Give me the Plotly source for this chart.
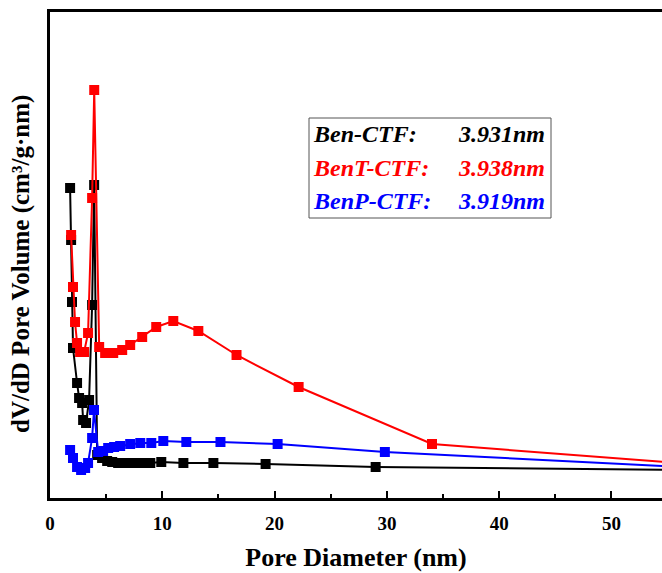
import plotly.graph_objects as go

# Pore size distributions (dV/dD) for the three CTF materials
ben_x = [1.79, 1.88, 1.96, 2.05, 2.41, 2.59, 2.86, 2.95, 3.21, 3.48, 3.75, 3.931,
         4.20, 4.64, 5.09, 5.54, 6.07, 6.88, 7.50, 8.13, 8.93, 9.91, 11.88, 14.55,
         19.20, 29.00, 65.0]
ben_y = [0.310, 0.258, 0.196, 0.150, 0.115, 0.100, 0.095, 0.078, 0.075, 0.098, 0.193, 0.313,
         0.043, 0.040, 0.037, 0.036, 0.035, 0.035, 0.035, 0.035, 0.035, 0.036, 0.035, 0.035,
         0.034, 0.031, 0.027]

bent_x = [1.88, 2.05, 2.23, 2.41, 2.68, 3.04, 3.39, 3.75, 3.938, 4.38, 4.91, 5.63, 6.43,
          7.14, 8.21, 9.46, 10.98, 13.21, 16.61, 22.14, 34.02, 65.0]
bent_y = [0.263, 0.211, 0.176, 0.155, 0.146, 0.146, 0.165, 0.300, 0.408, 0.151, 0.145, 0.145,
          0.148, 0.153, 0.161, 0.171, 0.177, 0.167, 0.143, 0.111, 0.054, 0.027]

benp_x = [1.79, 2.05, 2.41, 2.77, 3.13, 3.39, 3.75, 3.919, 4.29, 4.73, 5.18, 5.71, 6.25,
          7.14, 8.04, 9.02, 10.09, 12.14, 15.18, 20.27, 29.82, 65.0]
benp_y = [0.048, 0.040, 0.031, 0.028, 0.030, 0.035, 0.060, 0.088, 0.046, 0.047, 0.050, 0.051,
          0.052, 0.054, 0.055, 0.055, 0.057, 0.056, 0.056, 0.054, 0.046, 0.026]

names = ["Ben-CTF:", "BenT-CTF:", "BenP-CTF:"]
peaks = ["3.931nm", "3.938nm", "3.919nm"]
colors = ["#000000", "#ff0000", "#0000ff"]

x_ticks = [0, 10, 20, 30, 40, 50]

FONT = "Liberation Serif"

fig = go.Figure()
for xs, ys, c in [(ben_x, ben_y, colors[0]), (bent_x, bent_y, colors[1]), (benp_x, benp_y, colors[2])]:
    fig.add_trace(go.Scatter(
        x=xs, y=ys, mode="lines+markers",
        line=dict(color=c, width=2),
        marker=dict(symbol="square", size=10, color=c, line=dict(width=0)),
        showlegend=False, cliponaxis=True,
    ))

# Plot-area geometry in pixels, used to place the text box
L, R, B, T = 50, 662, 498, 12
W, H = R - L, B - T
def px(v):
    return (v - L) / W
def py(v):
    return (B - v) / H

fig.add_shape(type="rect", xref="paper", yref="paper",
              x0=px(309), x1=px(551), y0=py(218), y1=py(118),
              line=dict(color="#555555", width=1), fillcolor="rgba(0,0,0,0)")
for i, (n, p, c) in enumerate(zip(names, peaks, colors)):
    yy = py(134 + i * 33.5)
    fig.add_annotation(xref="paper", yref="paper", x=px(311), y=yy, text=f"<b><i>{n}</i></b>",
                       showarrow=False, xanchor="left", yanchor="middle",
                       font=dict(family=FONT, size=24, color=c))
    fig.add_annotation(xref="paper", yref="paper", x=px(547), y=yy, text=f"<b><i>{p}</i></b>",
                       showarrow=False, xanchor="right", yanchor="middle",
                       font=dict(family=FONT, size=24, color=c))

# Vertical axis title
fig.add_annotation(xref="paper", yref="paper", x=px(21), y=py(264),
                   text="<b>dV/dD Pore Volume (cm³/g·nm)</b>", textangle=-90,
                   showarrow=False, xanchor="center", yanchor="middle",
                   font=dict(family=FONT, size=25, color="black"))

fig.update_layout(
    width=662, height=573,
    margin=dict(l=L, r=662 - R, t=T, b=573 - B),
    paper_bgcolor="white", plot_bgcolor="white",
    font=dict(family=FONT, color="black"),
    xaxis=dict(
        range=[0, 54.5], tickvals=x_ticks, ticktext=[f"<b>{t}</b>" for t in x_ticks],
        ticks="inside", ticklen=7, tickwidth=2, tickcolor="black",
        minor=dict(dtick=5, tick0=0, ticks="inside", ticklen=4, tickwidth=2, tickcolor="black"),
        showline=True, linewidth=2.5, linecolor="black", mirror=True,
        showgrid=False, zeroline=False,
        tickfont=dict(family=FONT, size=19, color="black"),
        ticklabelstandoff=6,
        title=dict(text="<b>Pore Diameter (nm)</b>", font=dict(family=FONT, size=26, color="black"),
                   standoff=16),
    ),
    yaxis=dict(
        range=[0, 0.486], showticklabels=False, ticks="",
        showline=True, linewidth=2.5, linecolor="black", mirror=False,
        showgrid=False, zeroline=False,
    ),
)

fig.write_html("out.html")
